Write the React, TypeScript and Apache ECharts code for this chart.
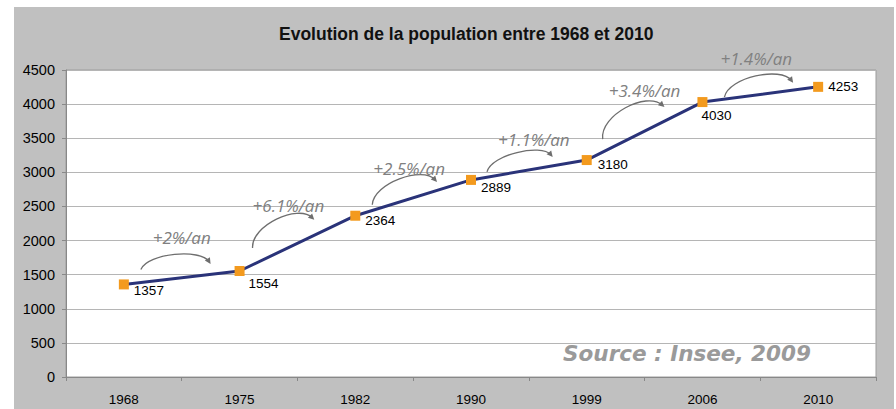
import React, { useEffect, useRef } from "react";
import * as echarts from "echarts";

const years = ["1968", "1975", "1982", "1990", "1999", "2006", "2010"];
const population = [1357, 1554, 2364, 2889, 3180, 4030, 4253];
const growthLabels = ["+2%/an", "+6.1%/an", "+2.5%/an", "+1.1%/an", "+3.4%/an", "+1.4%/an"];
const yTicks = { min: 0, max: 4500, interval: 500 };
const titleText = "Evolution de la population entre 1968 et 2010";
const sourceText = "Source : Insee, 2009";

// label placement offsets (styling only)
const labelOffsets = [[0, 6], [-1, 13], [0, 5], [0, 8], [1, 4], [-11, 13], [0, 0]];
// annotation arrow geometry relative to the segment end points (styling only)
const arrowStartOff = [[17, -15], [13, -23], [17, -11], [16, -8], [16, -21], [22, -5]];
const arrowEndOff = [[-29, -7], [-41, 4], [-34, 2], [-34, -3], [-38, 5], [-25, -4]];
const textOff = [[0, -40], [-9, -38], [-4, -29], [5, -30], [0, -41], [-4, -36]];
const bulge = [12, 16, 15, 12, 17, 14];

const ARIAL = "Arial, 'Liberation Sans', sans-serif";

export default function App() {
  const ref = useRef<HTMLDivElement>(null);
  useEffect(() => {
    if (!ref.current) return;
    const chart = echarts.init(ref.current, null, { renderer: "svg" });
    const renderArrow = (params: any, api: any) => {
      const i = params.dataIndex;
      const p0 = api.coord([i, population[i]]);
      const p1 = api.coord([i + 1, population[i + 1]]);
      const sx = p0[0] + arrowStartOff[i][0];
      const sy = p0[1] + arrowStartOff[i][1];
      const ex = p1[0] + arrowEndOff[i][0];
      const ey = p1[1] + arrowEndOff[i][1];
      const dx = ex - sx, dy = ey - sy;
      const L = Math.sqrt(dx * dx + dy * dy);
      const ux = dx / L, uy = dy / L;
      const nx = uy, ny = -ux;
      const h = bulge[i] * 1.33;
      const c1x = sx + dx * 0.12 + nx * h, c1y = sy + dy * 0.12 + ny * h;
      const c2x = ex - dx * 0.12 + nx * h, c2y = ey - dy * 0.12 + ny * h;
      let tx = ex - c2x, ty = ey - c2y;
      const tl = Math.sqrt(tx * tx + ty * ty);
      tx /= tl; ty /= tl;
      const ah = 6, aw = 3;
      const bx = ex - tx * ah, by = ey - ty * ah;
      const mx = (p0[0] + p1[0]) / 2, my = (p0[1] + p1[1]) / 2;
      return {
        type: "group",
        children: [
          {
            type: "bezierCurve",
            shape: { x1: sx, y1: sy, x2: ex - tx * 3, y2: ey - ty * 3, cpx1: c1x, cpy1: c1y, cpx2: c2x, cpy2: c2y },
            style: { stroke: "#6e6e6e", lineWidth: 1.3, fill: "none" },
          },
          {
            type: "polygon",
            shape: { points: [[ex, ey], [bx - ty * aw, by + tx * aw], [bx + ty * aw, by - tx * aw]] },
            style: { fill: "#6e6e6e" },
          },
          {
            type: "text",
            style: {
              text: growthLabels[i],
              x: mx + textOff[i][0],
              y: my + textOff[i][1],
              fill: "#808080",
              fontSize: 17,
              fontStyle: "italic",
              fontFamily: "'Open Sans', 'Noto Sans', sans-serif",
              align: "center",
              verticalAlign: "middle",
            },
          },
        ],
      };
    };
    chart.setOption({
      animation: false,
      graphic: [
        { type: "rect", z: -10, shape: { x: 14, y: 7, width: 880, height: 402 }, style: { fill: "#c0c0c0" } },
        {
          type: "text",
          z: 10,
          style: {
            text: sourceText,
            x: 687,
            y: 353,
            align: "center",
            verticalAlign: "middle",
            fill: "#9a9a9a",
            fontSize: 21.5,
            fontWeight: "bold",
            fontStyle: "italic",
            fontFamily: "'DejaVu Sans', Verdana, sans-serif",
          },
        },
      ],
      title: {
        text: titleText,
        left: 274,
        top: 20,
        textStyle: { fontFamily: ARIAL, fontSize: 17.5, fontWeight: "bold", color: "#111" },
      },
      grid: {
        left: 66,
        right: 20,
        top: 70,
        bottom: 32,
        show: true,
        backgroundColor: "#ffffff",
        borderColor: "#9c9c9c",
        borderWidth: 1,
      },
      xAxis: {
        type: "category",
        data: years,
        boundaryGap: true,
        axisLine: { lineStyle: { color: "#888888", width: 1 } },
        axisTick: { show: true, length: 4, lineStyle: { color: "#888888" } },
        axisLabel: { color: "#000", fontSize: 13.5, margin: 15, fontFamily: ARIAL },
        splitLine: { show: false },
      },
      yAxis: {
        type: "value",
        min: yTicks.min,
        max: yTicks.max,
        interval: yTicks.interval,
        axisLine: { show: true, lineStyle: { color: "#888888", width: 1 } },
        axisTick: { show: true, length: 4, lineStyle: { color: "#888888" } },
        axisLabel: {
          color: "#000",
          fontSize: 14.5,
          margin: 11,
          fontFamily: ARIAL,
          formatter: (v: number) => String(v),
        },
        splitLine: { show: true, lineStyle: { color: "#b5b5b5", width: 1 } },
      },
      series: [
        {
          type: "line",
          data: population.map((v, i) => ({
            value: v,
            label: { offset: labelOffsets[i] },
          })),
          lineStyle: { color: "#2a3379", width: 3 },
          itemStyle: { color: "#f39a1e" },
          symbol: "rect",
          symbolSize: 10,
          showAllSymbol: true,
          z: 5,
          label: {
            show: true,
            position: "right",
            distance: 5,
            color: "#000",
            fontSize: 13.5,
            fontFamily: ARIAL,
          },
        },
        {
          type: "custom",
          silent: true,
          clip: false,
          z: 4,
          data: growthLabels.map((_, i) => [i, population[i]]),
          encode: { x: 0, y: 1 },
          renderItem: renderArrow,
        },
      ],
    });
    return () => chart.dispose();
  }, []);
  return (
    <div style={{ position: "absolute", left: 0, top: 0, width: 896, height: 409, background: "#fff" }}>
      <div ref={ref} style={{ width: 896, height: 409 }} />
    </div>
  );
}
